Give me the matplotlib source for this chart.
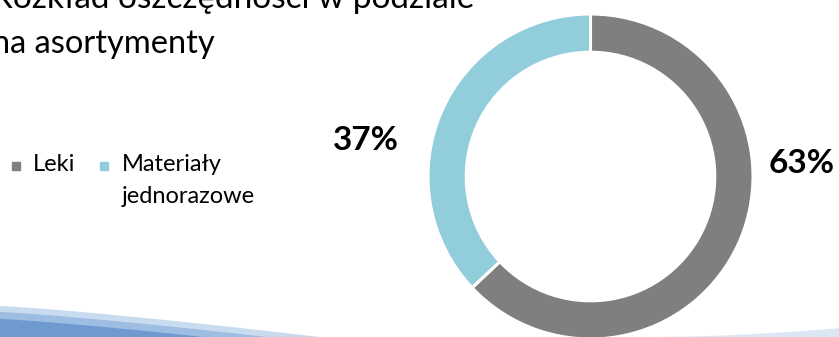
import matplotlib.pyplot as plt
import numpy as np

# savings split by product range
labels = ["Leki", "Materiały\njednorazowe"]
shares = [63, 37]
colors = ["#7f7f7f", "#92cddc"]
title_lines = ["Rozkład oszczędności w podziale", "na asortymenty"]

plt.rcParams['font.family'] = ['Lato', 'DejaVu Sans']

W, H = 839, 337
fig = plt.figure(figsize=(W / 100, H / 100), dpi=100)
fig.patch.set_facecolor("white")

# decorative swoosh along the bottom edge
bg = fig.add_axes([0, 0, 1, 1])
bg.set_xlim(0, W)
bg.set_ylim(0, H)
bg.axis("off")
xs = np.linspace(0, W, 400)
for shift, col in [(0, "#c9dcef"), (-6, "#9dbde2"), (-13, "#6e9ad0")]:
    top = 31 + shift - 31 * (xs / 320) ** 1.2
    bg.fill_between(xs, 0, np.clip(top, 0, None), color=col, lw=0)
right = 9 * ((xs - 640) / 200).clip(0, None) ** 2
bg.fill_between(xs, 0, right, color="#dbe8f4", lw=0)

# title, cut off by the slide edge
fig.text(-8 / W, 1 - 8 / H, title_lines[0], fontsize=24, va="baseline", ha="left")
fig.text(-8 / W, 1 - 53 / H, title_lines[1], fontsize=23.5, va="baseline", ha="left")

# donut
R = 162.5
cx, cy = 590.5, H - 176.5
ax = fig.add_axes([(cx - R) / W, (cy - R) / H, 2 * R / W, 2 * R / H])
wedges, _ = ax.pie(shares, colors=colors, startangle=90, counterclock=False,
                   radius=1, wedgeprops=dict(width=0.235, edgecolor="white", linewidth=2.2))
ax.set_xlim(-1, 1)
ax.set_ylim(-1, 1)
ax.set_aspect("equal")
ax.axis("off")

# percentage labels beside the ring
fig.text(802 / W, 1 - 164 / H, f"{shares[0]}%", fontsize=24, fontweight="bold",
         ha="center", va="center")
fig.text(366 / W, 1 - 141 / H, f"{shares[1]}%", fontsize=24, fontweight="bold",
         ha="center", va="center")

# legend: square marker + label, first lines level with each other
legend_x = [(16, 33), (104, 122)]
for (mx, tx), lab, col in zip(legend_x, labels, colors):
    fig.text(tx / W, 1 - 154 / H, lab, fontsize=17, va="top", ha="left", linespacing=1.65)
    fig.add_artist(plt.Line2D([mx / W], [1 - 166 / H], marker="s", markersize=6,
                              color=col, linestyle="none"))

fig.savefig("out.png", dpi=100, facecolor="white")
